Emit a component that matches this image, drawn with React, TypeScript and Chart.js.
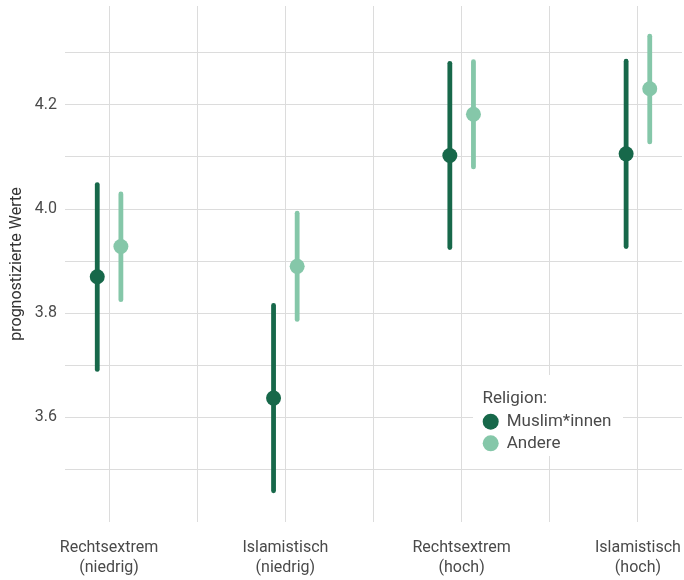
import { useEffect, useRef } from 'react';
import { Chart, registerables } from 'chart.js';

Chart.register(...registerables);

// Categories on the x axis (two-line labels)
const categories: string[][] = [
  ['Rechtsextrem', '(niedrig)'],
  ['Islamistisch', '(niedrig)'],
  ['Rechtsextrem', '(hoch)'],
  ['Islamistisch', '(hoch)'],
];

const seriesNames = ['Muslim*innen', 'Andere'];
const seriesColors = ['#17684a', '#85c7a9'];

// Predicted values with confidence intervals
const muslimEstimate = [3.870, 3.637, 4.103, 4.106];
const muslimLower = [3.692, 3.459, 3.926, 3.928];
const muslimUpper = [4.047, 3.815, 4.280, 4.284];

const andereEstimate = [3.928, 3.890, 4.182, 4.231];
const andereLower = [3.826, 3.788, 4.081, 4.129];
const andereUpper = [4.029, 3.992, 4.283, 4.332];

// Gridlines and labelled ticks on the y axis
const yGridValues = [3.5, 3.6, 3.7, 3.8, 3.9, 4.0, 4.1, 4.2, 4.3];
const yLabelValues = [3.6, 3.8, 4.0, 4.2];
const xGridValues = [0, 0.5, 1, 1.5, 2, 2.5, 3];

const DODGE = 0.067;
const FONT = 'Roboto, "Noto Sans", sans-serif';
const TEXT = '#4a4a4a';
const GRID = '#dcdcdc';

type Pt = { x: number; y: number; lo: number; hi: number };

const buildPoints = (est: number[], lo: number[], hi: number[], shift: number): Pt[] =>
  est.map((v, i) => ({ x: i + shift, y: v, lo: lo[i], hi: hi[i] }));

const errorBars = {
  id: 'errorBars',
  beforeDatasetsDraw(chart: any) {
    const { ctx, chartArea, scales } = chart;
    const xs = scales.x;
    const ys = scales.y;
    ctx.save();
    ctx.beginPath();
    ctx.rect(chartArea.left, chartArea.top, chartArea.right - chartArea.left, chartArea.bottom - chartArea.top);
    ctx.clip();
    chart.data.datasets.forEach((ds: any) => {
      ctx.strokeStyle = ds.backgroundColor;
      ctx.lineWidth = 4.8;
      ctx.lineCap = 'round';
      (ds.data as Pt[]).forEach((p) => {
        const px = xs.getPixelForValue(p.x);
        ctx.beginPath();
        ctx.moveTo(px, ys.getPixelForValue(p.lo));
        ctx.lineTo(px, ys.getPixelForValue(p.hi));
        ctx.stroke();
      });
    });
    ctx.restore();
  },
};

const religionLegend = {
  id: 'religionLegend',
  afterDraw(chart: any) {
    const { ctx, chartArea } = chart;
    const left = chartArea.right - 209;
    const top = chartArea.top + 369;
    ctx.save();
    ctx.fillStyle = '#ffffff';
    ctx.fillRect(left, top, 150, 81);
    ctx.fillStyle = TEXT;
    ctx.font = `17px ${FONT}`;
    ctx.textAlign = 'left';
    ctx.textBaseline = 'alphabetic';
    ctx.fillText('Religion:', left + 9.5, top + 28.3);
    seriesNames.forEach((name, i) => {
      const cy = top + 46.7 + i * 21.6;
      ctx.fillStyle = seriesColors[i];
      ctx.beginPath();
      ctx.arc(left + 17.7, cy, 8, 0, Math.PI * 2);
      ctx.fill();
      ctx.fillStyle = TEXT;
      ctx.textBaseline = 'middle';
      ctx.fillText(name, left + 33.7, cy + 0.5);
    });
    ctx.restore();
  },
};

export default function App() {
  const canvasRef = useRef<HTMLCanvasElement | null>(null);

  useEffect(() => {
    if (!canvasRef.current) return;
    Chart.defaults.font.family = FONT;
    const chart = new Chart(canvasRef.current, {
      type: 'scatter',
      data: {
        datasets: [
          {
            label: seriesNames[0],
            data: buildPoints(muslimEstimate, muslimLower, muslimUpper, -DODGE) as any,
            backgroundColor: seriesColors[0],
            borderColor: seriesColors[0],
            borderWidth: 0,
            pointRadius: 7.5,
            pointHoverRadius: 7.5,
          },
          {
            label: seriesNames[1],
            data: buildPoints(andereEstimate, andereLower, andereUpper, DODGE) as any,
            backgroundColor: seriesColors[1],
            borderColor: seriesColors[1],
            borderWidth: 0,
            pointRadius: 7.5,
            pointHoverRadius: 7.5,
          },
        ],
      },
      options: {
        animation: false,
        responsive: false,
        devicePixelRatio: 1,
        layout: { autoPadding: false, padding: { top: 6, right: 2, left: 0, bottom: 0 } },
        plugins: {
          legend: { display: false },
          tooltip: { enabled: false },
        },
        scales: {
          x: {
            type: 'linear',
            min: -0.25,
            max: 3.25,
            afterBuildTicks: (s: any) => {
              s.ticks = xGridValues.map((v) => ({ value: v }));
            },
            afterFit: (s: any) => {
              s.height = 58;
              s.paddingLeft = 0;
              s.paddingRight = 0;
            },
            ticks: {
              autoSkip: false,
              maxRotation: 0,
              minRotation: 0,
              padding: 15.5,
              color: TEXT,
              font: { family: FONT, size: 16, lineHeight: 1.25 },
              callback: (v: any) => (Number.isInteger(v) ? categories[v] : ''),
            },
            grid: { color: GRID, lineWidth: 1, drawTicks: false },
            border: { display: false },
          },
          y: {
            type: 'linear',
            min: 3.399,
            max: 4.39,
            afterBuildTicks: (s: any) => {
              s.ticks = yGridValues.map((v) => ({ value: v }));
            },
            afterFit: (s: any) => {
              s.width = 65;
              s.paddingTop = 0;
              s.paddingBottom = 0;
            },
            ticks: {
              padding: 8,
              color: TEXT,
              font: { family: FONT, size: 16 },
              callback: (v: any) =>
                yLabelValues.some((l) => Math.abs(l - v) < 1e-6) ? Number(v).toFixed(1) : '',
            },
            grid: { color: GRID, lineWidth: 1, drawTicks: false },
            border: { display: false },
            title: {
              display: true,
              text: 'prognostizierte Werte',
              color: '#333333',
              font: { family: FONT, size: 16 },
              padding: { top: 7, bottom: 0 },
            },
          },
        },
      },
      plugins: [errorBars, religionLegend],
    });
    return () => chart.destroy();
  }, []);

  return (
    <div style={{ position: 'absolute', left: 0, top: 0, width: 684, height: 580, background: '#fff' }}>
      <canvas ref={canvasRef} width={684} height={580} style={{ display: 'block' }} />
    </div>
  );
}
